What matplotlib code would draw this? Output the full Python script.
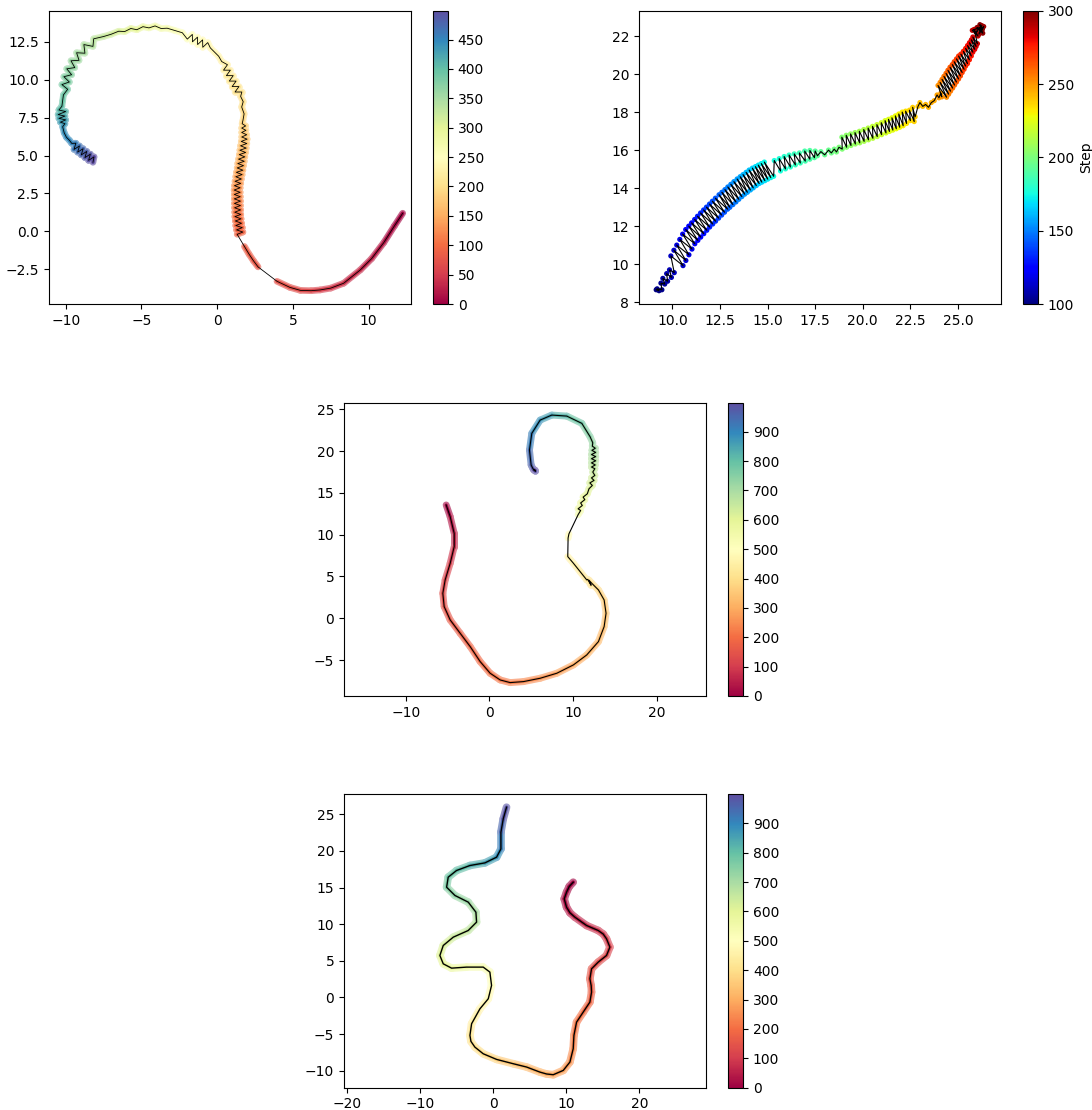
import numpy as np
import matplotlib
matplotlib.use("Agg")
from matplotlib import pyplot as plt
from matplotlib.collections import LineCollection
from matplotlib.colors import Normalize
from matplotlib.cm import ScalarMappable
from matplotlib.ticker import MultipleLocator

plt.rcParams['font.size'] = 10

# ---- panel 1: trajectory, steps 0..499 (Spectral) ----
p1_x = [12.25, 11.70, 11.00, 10.20, 9.45, 8.35, 7.50, 6.80, 6.20, 5.50, 4.80, 3.95,
        2.70, 2.40, 2.10, 1.80,
        1.32, 1.70, 1.28, 1.66, 1.23, 1.61, 1.20, 1.58, 1.17, 1.56, 1.16, 1.55, 1.15,
        1.54, 1.14, 1.54, 1.13, 1.53, 1.13, 1.52, 1.12, 1.52, 1.14, 1.56, 1.18, 1.60,
        1.23, 1.65, 1.27, 1.70, 1.32, 1.74, 1.36, 1.79, 1.41, 1.83, 1.46, 1.88, 1.50,
        1.92, 1.54, 1.96, 1.59, 1.98, 1.62, 1.95, 1.62, 1.90, 1.62, 1.88, 1.65,
        1.70, 1.78, 1.62, 1.72, 1.55,
        1.63, 1.18, 1.44, 0.99, 1.25, 0.80, 1.06, 0.61, 0.87, 0.42, 0.68,
        0.30, 0.10, -0.15, -0.45,
        -0.62, -0.95, -0.96, -1.29, -1.30, -1.63, -1.64, -1.97,
        -2.30, -2.80, -3.30, -3.70, -4.10, -4.50, -4.90, -5.30, -5.70, -6.10, -6.50,
        -7.00, -7.50,
        -8.15, -8.20, -8.80, -8.73, -9.28, -9.12, -9.65, -9.40, -9.93, -9.61, -10.12,
        -9.76, -10.25, -9.87,
        -10.15, -10.20, -10.25,
        -10.45, -10.00, -10.50, -10.05, -10.45, -10.00, -10.35, -10.05,
        -10.20, -10.10, -9.95, -9.75, -9.60,
        -9.33, -9.45, -9.09, -9.21, -8.85, -8.97, -8.61, -8.73, -8.37, -8.49, -8.13, -8.20]
p1_y = [1.19, 0.35, -0.75, -1.80, -2.55, -3.43, -3.75, -3.87, -3.92, -3.90, -3.70, -3.30,
        -2.35, -1.95, -1.50, -1.00,
        -0.20, -0.05, 0.09, 0.24, 0.38, 0.53, 0.68, 0.82, 0.97, 1.11, 1.26, 1.41, 1.55,
        1.70, 1.84, 1.99, 2.14, 2.28, 2.43, 2.57, 2.72, 2.87, 3.01, 3.16, 3.30, 3.45,
        3.60, 3.74, 3.89, 4.03, 4.18, 4.33, 4.47, 4.62, 4.76, 4.91, 5.06, 5.20, 5.35,
        5.49, 5.64, 5.79, 5.93, 6.08, 6.22, 6.37, 6.52, 6.66, 6.81, 6.95, 7.10,
        7.30, 7.75, 8.20, 8.55, 8.90,
        9.19, 9.19, 9.55, 9.55, 9.91, 9.91, 10.27, 10.27, 10.63, 10.63, 10.99,
        11.20, 11.55, 11.80, 12.10,
        12.45, 12.14, 12.63, 12.32, 12.81, 12.50, 12.99, 12.68,
        13.10, 13.25, 13.40, 13.38, 13.55, 13.42, 13.50, 13.30, 13.38, 13.18, 13.20,
        13.00, 12.85,
        12.70, 12.20, 12.32, 11.75, 11.78, 11.28, 11.25, 10.80, 10.72, 10.33, 10.20,
        9.85, 9.68, 9.37,
        9.00, 8.60, 8.25,
        8.00, 7.90, 7.70, 7.60, 7.45, 7.35, 7.20, 7.10,
        6.90, 6.50, 6.20, 6.00, 5.80,
        5.81, 5.40, 5.63, 5.22, 5.45, 5.04, 5.27, 4.86, 5.09, 4.68, 4.91, 4.55]
p1_step = [0, 8, 17, 26, 34, 43, 50, 55, 60, 65, 70, 75,
           77, 80, 83, 87,
           90, 92, 94, 96, 98, 100, 102, 104, 106, 108, 110, 112, 114,
           116, 118, 120, 122, 124, 126, 128, 130, 132, 134, 136, 138, 140,
           142, 144, 146, 148, 150, 152, 154, 156, 158, 160, 162, 164, 166,
           168, 170, 172, 174, 176, 178, 180, 182, 184, 186, 188, 190,
           192, 195, 198, 200, 203,
           205, 207, 209, 211, 213, 215, 217, 219, 221, 223, 225,
           228, 231, 234, 237,
           238, 240, 242, 244, 246, 248, 250, 252,
           256, 262, 268, 273, 278, 283, 288, 293, 298, 303, 308,
           316, 324,
           334, 338, 342, 346, 350, 354, 358, 362, 366, 370, 374, 378, 382, 386,
           390, 395, 400,
           404, 408, 412, 416, 420, 424, 428, 432,
           436, 440, 444, 448, 452,
           456, 460, 464, 468, 472, 476, 480, 484, 488, 492, 496, 499]
p1_gaps = [11, 15]

# ---- panel 2: steps 100..299 (jet), one point per step ----
p2_x = [9.15, 9.30, 9.20, 9.45, 9.40, 9.60, 9.50, 9.75, 9.70, 9.95, 9.85, 10.10,
        9.92, 10.56, 10.08, 10.71, 10.23, 10.87, 10.39, 11.03,
        10.54, 11.18, 10.70, 11.34, 10.86, 11.49, 11.01, 11.65,
        11.17, 11.81, 11.32, 11.96, 11.48, 12.12, 11.64, 12.27,
        11.79, 12.43, 11.95, 12.59, 12.10, 12.74, 12.26, 12.90,
        12.45, 13.02, 12.60, 13.18, 12.76, 13.34, 12.91, 13.49,
        13.07, 13.65, 13.23, 13.80, 13.40, 13.94, 13.56, 14.10,
        13.71, 14.25, 13.87, 14.41, 14.03, 14.56, 14.20, 14.70,
        14.36, 14.86, 14.51, 15.01, 14.67, 15.17, 14.83, 15.32,
        15.35, 15.68, 15.61, 15.94, 15.87, 16.20, 16.13, 16.46, 16.40, 16.72,
        16.67, 16.98, 16.95, 17.22, 17.22, 17.46, 17.50,
        17.62, 17.80, 18.00, 18.20, 18.35, 18.50, 18.62, 18.75,
        18.92, 18.90, 19.15, 19.13, 19.38, 19.36, 19.61, 19.59, 19.84, 19.82,
        20.07, 20.05, 20.30, 20.28, 20.53, 20.51, 20.76, 20.74, 20.99, 20.97,
        21.22, 21.17, 21.40, 21.35, 21.58, 21.53, 21.76, 21.71, 21.94, 21.89,
        22.12, 22.07, 22.30, 22.25, 22.50, 22.45, 22.70, 22.62,
        22.75, 22.90, 23.00, 23.15, 23.30, 23.45, 23.60, 23.75, 23.90, 24.00, 24.10, 24.15,
        23.95, 24.40, 24.06, 24.51, 24.16, 24.61, 24.26, 24.72, 24.37, 24.82, 24.47,
        24.92, 24.58, 25.03, 24.70, 25.13, 24.80, 25.22, 24.92, 25.32, 25.03, 25.40,
        25.15, 25.50, 25.28, 25.60, 25.40, 25.70, 25.50, 25.78, 25.60, 25.88,
        25.70, 25.95, 25.78, 26.02, 25.85, 26.05, 25.75, 26.15, 25.95, 26.25,
        26.10, 26.35, 26.20, 26.00, 26.30, 26.15, 26.28]
p2_y = [8.65, 8.60, 8.70, 8.65, 9.00, 8.95, 9.25, 9.10, 9.50, 9.30, 9.70, 9.55,
        10.43, 9.92, 10.73, 10.19, 11.00, 10.49, 11.30, 10.79,
        11.58, 11.07, 11.82, 11.25, 12.00, 11.42, 12.17, 11.60,
        12.35, 11.78, 12.52, 11.95, 12.69, 12.11, 12.85, 12.26,
        13.00, 12.42, 13.16, 12.58, 13.31, 12.73, 13.47, 12.89,
        13.65, 12.99, 13.78, 13.13, 13.92, 13.27, 14.06, 13.41,
        14.20, 13.55, 14.34, 13.68, 14.48, 13.78, 14.60, 13.90,
        14.71, 14.01, 14.83, 14.13, 14.95, 14.24, 15.05, 14.31,
        15.13, 14.39, 15.21, 14.47, 15.29, 14.55, 15.37, 14.62,
        15.45, 14.90, 15.55, 15.01, 15.66, 15.11, 15.74, 15.22, 15.80, 15.32,
        15.85, 15.42, 15.95, 15.52, 15.98, 15.60, 15.95,
        15.70, 15.92, 15.75, 16.00, 15.85, 16.05, 15.90, 16.15,
        16.05, 16.68, 16.15, 16.78, 16.24, 16.85, 16.32, 16.92, 16.38, 16.99,
        16.46, 17.08, 16.54, 17.16, 16.62, 17.25, 16.71, 17.34, 16.81, 17.44,
        16.90, 17.55, 16.98, 17.62, 17.05, 17.70, 17.12, 17.80, 17.20, 17.90,
        17.28, 18.00, 17.40, 18.05, 17.55, 18.10, 17.50, 18.25,
        17.75, 18.30, 18.50, 18.30, 18.40, 18.25, 18.50, 18.60, 18.90, 18.75, 19.00, 18.80,
        19.40, 18.78, 19.56, 18.94, 19.72, 19.10, 19.88, 19.26, 20.04, 19.42, 20.20,
        19.58, 20.36, 19.74, 20.50, 19.90, 20.65, 20.08, 20.80, 20.25, 20.95, 20.42,
        21.05, 20.55, 21.20, 20.75, 21.35, 20.95, 21.50, 21.15, 21.65, 21.30,
        21.80, 21.45, 21.95, 21.60, 22.35, 22.00, 22.30, 22.45, 22.20, 22.55,
        22.10, 22.50, 22.25, 22.45, 22.15, 22.60, 22.35]
p2_first_step = 100

# ---- panel 3: steps 0..999 (Spectral) ----
p3_x = [-5.18, -4.70, -4.22, -4.22, -4.70, -5.30, -5.58, -5.42, -4.70, -3.51,
        -2.31, -1.12, 0.08, 1.27, 2.47, 4.06, 6.06, 8.05, 10.04, 11.63,
        13.03, 13.71, 13.94, 13.71, 13.03, 12.23, 11.90, 12.15, 11.75, 11.63,
        10.84, 10.04, 9.36,
        9.40, 9.50,
        10.60, 10.90, 10.60, 11.10, 10.90, 11.40, 11.20, 11.70, 11.90,
        12.30, 12.00, 12.50, 12.20, 12.60, 12.35,
        12.60, 12.20, 12.65, 12.20, 12.70, 12.20, 12.70, 12.20, 12.70, 12.25, 12.65, 12.30,
        12.35, 12.03, 11.04, 9.24, 7.45, 6.06, 5.06, 4.78, 4.98, 5.20, 5.50, 5.30, 5.46]
p3_y = [13.56, 12.16, 10.17, 8.57, 6.58, 4.59, 2.99, 1.40, -0.20, -1.79,
        -3.39, -5.18, -6.58, -7.38, -7.70, -7.58, -7.18, -6.58, -5.58, -4.39,
        -2.79, -1.00, 0.60, 2.19, 3.39, 4.19, 4.55, 3.95, 4.65, 4.59,
        5.58, 6.58, 7.38,
        9.60, 10.10,
        12.40, 12.90, 13.10, 13.50, 13.80, 14.20, 14.50, 14.90, 15.50,
        15.90, 16.20, 16.50, 16.80, 17.10, 17.50,
        17.90, 18.10, 18.35, 18.60, 18.85, 19.10, 19.35, 19.60, 19.85, 20.10, 20.35, 20.60,
        21.00, 21.73, 23.33, 24.20, 24.32, 23.72, 22.13, 20.14, 18.34, 17.90, 17.60, 17.75, 17.74]
p3_step = [0, 25, 55, 75, 100, 120, 135, 145, 155, 168,
           180, 193, 205, 215, 225, 238, 255, 272, 290, 305,
           320, 335, 350, 365, 380, 395, 400, 405, 410, 415,
           435, 450, 465,
           478, 490,
           540, 548, 556, 564, 572, 580, 588, 596, 606,
           614, 620, 626, 632, 638, 648,
           655, 660, 665, 670, 675, 680, 685, 690, 695, 700, 705, 710,
           720, 740, 770, 800, 840, 870, 900, 930, 960, 975, 985, 992, 999]
p3_gaps = [32, 34]

# ---- panel 4: steps 0..999 (Spectral) ----
p4_x = [10.94, 10.40, 10.03, 9.71, 10.03, 10.50, 11.17, 12.77, 14.36, 15.05,
        15.50, 15.96, 15.50, 14.36, 13.45, 13.22, 13.40, 13.45, 13.22, 12.31,
        11.40, 11.04, 10.94, 10.49, 9.58, 8.21, 7.30, 6.38, 4.56, 2.74,
        0.46, -1.37, -2.51, -3.05, -3.19, -2.96, -1.82, -0.68, -0.23, -0.46,
        -1.37, -3.65, -5.70, -6.84, -7.30, -6.84, -5.47, -3.42, -2.28, -2.37,
        -3.42, -5.24, -6.38, -6.16, -5.02, -3.19, -1.14, 0.46, 1.05, 1.05,
        1.37, 1.82]
p4_y = [15.73, 15.15, 14.37, 13.46, 12.32, 11.55, 10.96, 9.82, 9.14, 8.65,
        8.00, 6.87, 5.73, 4.82, 3.91, 2.55, 1.60, 0.73, -0.64, -2.00,
        -3.37, -5.18, -7.00, -8.82, -9.96, -10.55, -10.45, -10.19, -9.50, -9.05,
        -8.46, -7.69, -6.78, -6.00, -5.18, -3.59, -1.55, -0.18, 1.64, 3.46,
        4.14, 4.14, 4.00, 4.59, 5.73, 7.09, 8.23, 9.14, 10.28, 11.64,
        13.01, 13.92, 15.05, 16.42, 17.33, 18.01, 18.37, 19.15, 20.28, 22.56,
        24.38, 25.97]
p4_step = [0, 8, 15, 25, 35, 43, 52, 68, 82, 90,
           97, 108, 119, 131, 142, 155, 163, 170, 182, 197,
           212, 228, 245, 262, 275, 288, 296, 305, 325, 345,
           370, 390, 405, 412, 420, 437, 460, 478, 497, 520,
           532, 555, 577, 590, 603, 618, 635, 655, 672, 690,
           710, 735, 755, 775, 795, 820, 845, 870, 895, 935,
           970, 999]


def draw_band(ax, x, y, step, cmap, norm, gaps=(), halo_lw=5.0, core_lw=2.2, line_lw=0.7):
    pts = np.column_stack([x, y])
    segs = np.stack([pts[:-1], pts[1:]], axis=1)
    st = np.asarray(step, dtype=float)
    cols = cmap(norm(0.5 * (st[:-1] + st[1:])))
    keep = np.ones(len(segs), dtype=bool)
    keep[list(gaps)] = False
    halo = cols.copy()
    halo[:, :3] = 0.62 * cols[:, :3] + 0.38
    ax.add_collection(LineCollection(segs[keep], colors=halo[keep], linewidths=halo_lw,
                                     capstyle='round', zorder=1))
    ax.add_collection(LineCollection(segs[keep], colors=cols[keep], linewidths=core_lw,
                                     capstyle='round', zorder=2))
    ax.plot(x, y, color='k', lw=line_lw, zorder=3)


fig = plt.figure(figsize=(10.92, 11.10), dpi=100)

ax1 = fig.add_axes([0.0449, 0.7261, 0.3315, 0.2642])
cax1 = fig.add_axes([0.3965, 0.7261, 0.0137, 0.2642])
ax2 = fig.add_axes([0.5852, 0.7261, 0.3315, 0.2642])
cax2 = fig.add_axes([0.9368, 0.7261, 0.0137, 0.2642])
ax3 = fig.add_axes([0.3150, 0.3730, 0.3312, 0.2642])
cax3 = fig.add_axes([0.6669, 0.3730, 0.0137, 0.2642])
ax4 = fig.add_axes([0.3150, 0.0201, 0.3312, 0.2643])
cax4 = fig.add_axes([0.6669, 0.0201, 0.0137, 0.2643])

spectral = plt.get_cmap('Spectral')
jet = plt.get_cmap('jet')

# panel 1
norm1 = Normalize(0, 499)
draw_band(ax1, p1_x, p1_y, p1_step, spectral, norm1, p1_gaps, halo_lw=4.8, core_lw=2.6, line_lw=0.6)
ax1.set_xlim(-11.1, 12.8)
ax1.set_ylim(-4.8, 14.55)
fig.colorbar(ScalarMappable(norm1, spectral), cax=cax1, ticks=range(0, 451, 50))

# panel 2
p2_step = np.arange(p2_first_step, p2_first_step + len(p2_x))
norm2 = Normalize(100, 300)
ax2.scatter(p2_x, p2_y, c=p2_step, cmap=jet, norm=norm2, s=14, edgecolors='none', zorder=2)
ax2.plot(p2_x, p2_y, color='k', lw=0.8, zorder=3)
ax2.set_xlim(8.25, 27.26)
ax2.set_ylim(7.9, 23.33)
cb2 = fig.colorbar(ScalarMappable(norm2, jet), cax=cax2, ticks=range(100, 301, 50))
cb2.set_label('Step')

# panel 3
norm3 = Normalize(0, 999)
draw_band(ax3, p3_x, p3_y, p3_step, spectral, norm3, p3_gaps, halo_lw=5.0, core_lw=2.2, line_lw=0.8)
ax3.set_xlim(-17.4, 25.85)
ax3.set_ylim(-9.3, 25.8)
ax3.xaxis.set_major_locator(MultipleLocator(10))
fig.colorbar(ScalarMappable(norm3, spectral), cax=cax3, ticks=range(0, 901, 100))

# panel 4
draw_band(ax4, p4_x, p4_y, p4_step, spectral, norm3, (), halo_lw=5.5, core_lw=2.6, line_lw=1.0)
ax4.set_xlim(-20.42, 29.06)
ax4.set_ylim(-12.32, 27.73)
fig.colorbar(ScalarMappable(norm3, spectral), cax=cax4, ticks=range(0, 901, 100))

fig.savefig('out.png', dpi=100)
